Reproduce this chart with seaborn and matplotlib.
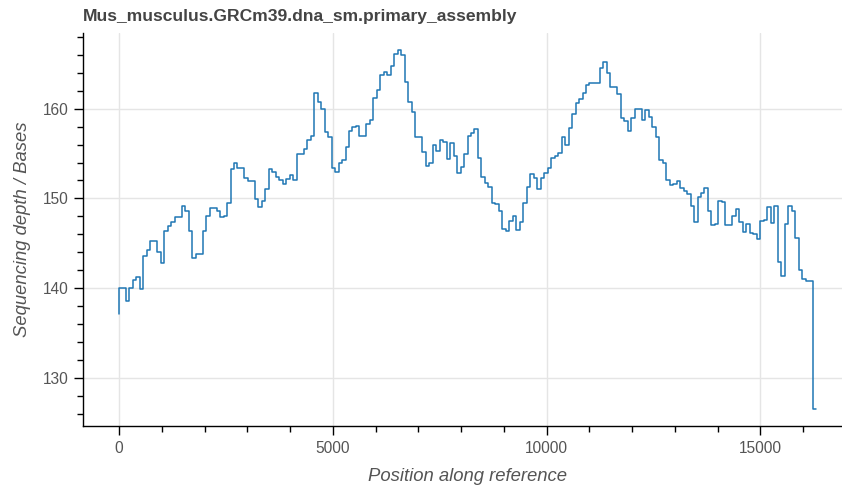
import numpy as np
import pandas as pd
import matplotlib
matplotlib.use("Agg")
import matplotlib.pyplot as plt
from matplotlib.ticker import MultipleLocator
import seaborn as sns

title = "Mus_musculus.GRCm39.dna_sm.primary_assembly"
x_label = "Position along reference"
y_label = "Sequencing depth / Bases"
genome_length = 16299

# mean depth per window (first value is the depth at position 0)
depth = [
    137.1,
    140.1, 140.1, 138.6, 140.1, 140.9, 141.3, 139.9, 143.6, 144.3, 145.3,
    145.3, 144.1, 142.8, 146.4, 146.9, 147.4, 147.9, 147.9, 149.2, 148.6,
    146.4, 143.4, 143.8, 143.8, 146.4, 148.1, 148.9, 148.9, 148.6, 147.9,
    148.1, 149.5, 153.3, 153.9, 153.4, 153.4, 152.3, 151.9, 151.9, 149.9,
    149.0, 149.7, 151.0, 153.3, 152.9, 152.4, 152.1, 151.6, 152.2, 152.6,
    152.0, 154.9, 154.9, 155.5, 156.5, 156.9, 161.7, 160.7, 159.9, 157.4,
    156.8, 153.4, 152.9, 153.9, 154.3, 155.7, 157.5, 157.9, 158.1, 156.9,
    156.9, 158.3, 158.7, 161.2, 162.1, 163.7, 164.1, 163.7, 164.7, 166.1,
    166.5, 166.0, 162.9, 160.7, 159.6, 156.8, 156.8, 155.2, 153.6, 153.9,
    156.0, 155.3, 156.5, 156.3, 154.4, 156.2, 154.7, 152.8, 153.5, 154.9,
    157.0, 157.3, 157.7, 154.5, 152.4, 151.7, 151.3, 149.5, 149.4, 148.6,
    146.6, 146.4, 147.5, 148.1, 146.5, 147.4, 149.5, 151.3, 152.7, 152.3,
    151.1, 152.3, 152.8, 153.4, 154.5, 154.7, 155.1, 156.8, 156.0, 157.8,
    159.4, 160.6, 161.1, 161.7, 162.6, 162.8, 162.8, 162.8, 164.5, 165.2,
    164.0, 162.4, 162.4, 161.6, 158.9, 158.6, 157.5, 159.0, 159.9, 159.9,
    158.7, 159.8, 159.1, 157.9, 156.8, 154.3, 153.9, 152.1, 151.5, 151.6,
    151.9, 151.2, 150.8, 150.5, 149.2, 147.4, 150.2, 150.6, 151.2, 148.6,
    147.1, 147.2, 149.7, 149.6, 147.1, 147.1, 148.1, 148.8, 147.4, 146.3,
    147.2, 146.2, 146.0, 145.5, 147.5, 147.6, 149.1, 147.3, 149.2, 142.9,
    141.4, 147.2, 149.2, 148.6, 145.6, 142.0, 141.0, 140.8, 140.8, 126.6,
]

positions = np.linspace(0, genome_length, len(depth))
df = pd.DataFrame({"position": positions, "depth": depth})

sns.set_style("white")
plt.rcParams["font.family"] = ["Liberation Sans", "DejaVu Sans"]

W, H = 842, 493
fig = plt.figure(figsize=(W / 100, H / 100), dpi=100)
left, right, top, bottom = 83, 852, 33, 426
ax = fig.add_axes([left / W, (H - bottom) / H, (right - left) / W, (bottom - top) / H])

sns.lineplot(data=df, x="position", y="depth", ax=ax, estimator=None,
             drawstyle="steps-pre", color="#1f77b4", linewidth=1.1, zorder=3)

ax.set_xlim(-842, 17141)
ax.set_ylim(124.7, 168.4)

ax.xaxis.set_major_locator(MultipleLocator(5000))
ax.xaxis.set_minor_locator(MultipleLocator(1000))
ax.yaxis.set_major_locator(MultipleLocator(10))
ax.yaxis.set_minor_locator(MultipleLocator(2))

ax.grid(True, which="major", color="#e5e5e5", linewidth=1.0)
ax.set_axisbelow(True)

for side in ("top", "right"):
    ax.spines[side].set_visible(False)
for side in ("left", "bottom"):
    ax.spines[side].set_color("black")
    ax.spines[side].set_linewidth(1.0)

ax.tick_params(which="major", direction="out", length=6.5, width=1.0,
               color="black", labelsize=11.2, labelcolor="#555555", pad=4)
ax.tick_params(which="minor", direction="out", length=4.2, width=1.0,
               color="black")
ax.tick_params(axis="x", which="both", bottom=True)
ax.tick_params(axis="y", which="both", left=True)

ax.set_xlabel(x_label, fontsize=13.3, style="italic", color="#555555")
ax.set_ylabel(y_label, fontsize=13.3, style="italic", color="#555555")
ax.xaxis.set_label_coords(0.5, (bottom - 468) / (bottom - top))
ax.yaxis.set_label_coords((31 - left) / (right - left), 0.5)

ax.set_title(title, loc="left", fontsize=12.6, fontweight="bold",
             color="#444444", pad=9)

fig.savefig("out.png", dpi=100)
